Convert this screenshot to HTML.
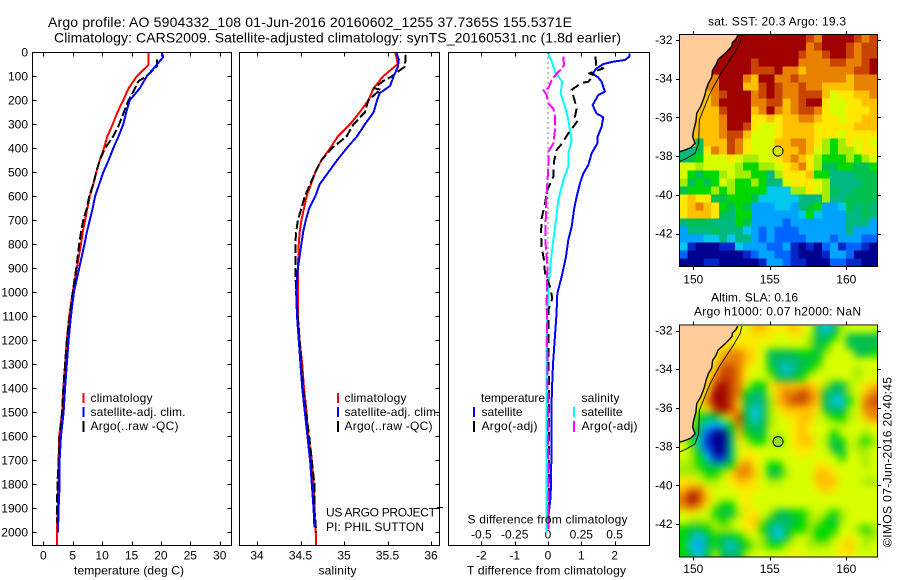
<!DOCTYPE html>
<html lang="en">
<head>
<meta charset="utf-8">
<title>Argo profile 5904332_108</title>
<style>
html,body{margin:0;padding:0;background:#fff;width:900px;height:580px;overflow:hidden}
svg{display:block}
text{font-family:"Liberation Sans",Arial,sans-serif;font-size:12px;fill:#000}
.title{font-size:14px}
.frame{fill:none;stroke:#000;stroke-width:1;shape-rendering:crispEdges}
.key{stroke-width:2.4;shape-rendering:crispEdges}
</style>
</head>
<body>
<svg id="figure" xmlns="http://www.w3.org/2000/svg" width="900" height="580" viewBox="0 0 900 580">
  <rect x="0" y="0" width="900" height="580" fill="#fff"/>
  <text class="title" x="48" y="27" textLength="524" lengthAdjust="spacing">Argo profile: AO 5904332_108 01-Jun-2016 20160602_1255 37.7365S 155.5371E</text>
  <text class="title" x="54" y="42.5" textLength="567" lengthAdjust="spacing">Climatology: CARS2009. Satellite-adjusted climatology: synTS_20160531.nc (1.8d earlier)</text>

  <g id="panelTemp"></g>
  <g id="panelSal"></g>
  <g id="panelDiff"></g>
  <g id="mapSst"></g>
  <g id="mapSla"></g>

  <g>
    <line class="key" x1="83.5" y1="393" x2="83.5" y2="403" stroke="#f00"/>
    <line class="key" x1="83.5" y1="407" x2="83.5" y2="417" stroke="#00f"/>
    <line class="key" x1="83.5" y1="421" x2="83.5" y2="432" stroke="#000"/>
    <text x="90.5" y="402" textLength="62" lengthAdjust="spacing">climatology</text>
    <text x="90.5" y="416" textLength="95" lengthAdjust="spacing">satellite-adj. clim.</text>
    <text x="90.5" y="430" textLength="88" lengthAdjust="spacing">Argo(..raw -QC)</text>
  </g>
  <g>
    <line class="key" x1="338" y1="393" x2="338" y2="403" stroke="#f00"/>
    <line class="key" x1="338" y1="407" x2="338" y2="417" stroke="#00f"/>
    <line class="key" x1="338" y1="421" x2="338" y2="432" stroke="#000"/>
    <text x="344.5" y="402" textLength="62" lengthAdjust="spacing">climatology</text>
    <text x="344.5" y="416" textLength="95" lengthAdjust="spacing">satellite-adj. clim.</text>
    <text x="344.5" y="430" textLength="88" lengthAdjust="spacing">Argo(..raw -QC)</text>
  </g>
  <text x="326" y="516.5" textLength="110" lengthAdjust="spacing">US ARGO PROJECT</text>
  <text x="326" y="531" textLength="98" lengthAdjust="spacing">PI: PHIL SUTTON</text>
  <line x1="437" y1="507.5" x2="443" y2="507.5" stroke="#000" shape-rendering="crispEdges"/>
  <g>
    <text x="481" y="402" textLength="64" lengthAdjust="spacing">temperature</text>
    <text x="581.5" y="402" textLength="38" lengthAdjust="spacing">salinity</text>
    <line class="key" x1="474" y1="407" x2="474" y2="417" stroke="#00f"/>
    <line class="key" x1="474" y1="421" x2="474" y2="432" stroke="#000"/>
    <line class="key" x1="574" y1="407" x2="574" y2="417" stroke="#0ff"/>
    <line class="key" x1="574" y1="421" x2="574" y2="432" stroke="#f0f"/>
    <text x="481.5" y="416" textLength="41" lengthAdjust="spacing">satellite</text>
    <text x="481.5" y="430" textLength="56" lengthAdjust="spacing">Argo(-adj)</text>
    <text x="581.5" y="416" textLength="41" lengthAdjust="spacing">satellite</text>
    <text x="581.5" y="430" textLength="56" lengthAdjust="spacing">Argo(-adj)</text>
  </g>

  <text x="74" y="574.5" textLength="110" lengthAdjust="spacing">temperature (deg C)</text>
  <text x="318.5" y="574.5" textLength="38" lengthAdjust="spacing">salinity</text>
  <text x="467" y="574.5" textLength="159" lengthAdjust="spacing">T difference from climatology</text>
  <text x="467.5" y="523.5" textLength="160" lengthAdjust="spacing">S difference from climatology</text>

  <text x="708" y="25.5" textLength="138" lengthAdjust="spacing">sat. SST: 20.3  Argo: 19.3</text>
  <text x="711" y="301.5" textLength="87" lengthAdjust="spacing">Altim. SLA: 0.16</text>
  <text x="694" y="315.5" textLength="167" lengthAdjust="spacing">Argo h1000: 0.07 h2000: NaN</text>
  <text transform="translate(891.5,547) rotate(-90)" x="0" y="0" textLength="170" lengthAdjust="spacing">©IMOS 07-Jun-2016 20:40:45</text>

  <defs>
    <clipPath id="clipSst"><rect x="680" y="35" width="197" height="231"/></clipPath>
    <clipPath id="clipSla"><rect x="680" y="326" width="197" height="231"/></clipPath>
    <filter id="slaBlur" x="-10%" y="-10%" width="120%" height="120%" color-interpolation-filters="sRGB"><feGaussianBlur stdDeviation="4"/></filter>
  </defs>
</svg>

<script>
// ---- profile depth levels and values ----
const depthTicks = [0,100,200,300,400,500,600,700,800,900,1000,1100,1200,1300,1400,1500,1600,1700,1800,1900,2000];
const tempTicks = [0,5,10,15,20,25,30];
const salTicks = [34,34.5,35,35.5,36];
const salTickLabels = ['34','34.5','35','35.5','36'];
const tDiffTicks = [-2,-1,0,1,2];
const sDiffTicks = [-0.5,-0.25,0,0.25,0.5];
const sDiffTickLabels = ['-0.5','-0.25','0','0.25','0.5'];

const depthClimT = [0,50,60,100,150,200,250,300,350,400,450,500,550,600,650,700,750,800,900,1000,1100,1200,1300,1400,1500,1600,1700,1800,1900,2000,2054];
const tempClim = [17.9,17.9,17.6,15.9,14.5,13.6,12.6,11.8,10.9,10.3,9.6,9.0,8.5,7.9,7.5,7.1,6.7,6.4,5.7,5.0,4.4,4.0,3.7,3.4,3.2,2.7,2.6,2.55,2.45,2.3,2.3];
const depthSatT = [0,20,60,100,150,200,250,300,350,400,450,500,550,600,650,700,750,800,900,1000,1100,1200,1300,1400,1500,1600,1700,1800,1900,2000];
const tempSat = [20.1,20.4,19.0,17.6,16.4,14.7,14.1,13.6,12.8,11.9,11.1,10.2,9.5,8.8,8.4,7.9,7.4,7.0,6.1,5.2,4.7,4.3,4.0,3.7,3.45,3.0,2.77,2.77,2.6,2.5];
const depthArgoT = [30,60,80,100,120,150,200,250,300,350,400,450,500,550,600,650,700,750,800,900,1000,1100,1200,1300,1400,1500,1600,1700,1800,1960];
const tempArgo = [19.3,19.3,18.4,17.5,16.2,15.6,14.5,13.7,12.9,11.9,10.5,9.6,9.0,8.5,7.8,7.4,6.8,6.4,6.1,5.6,5.0,4.5,4.0,3.7,3.4,3.2,2.8,2.6,2.4,2.3];

const depthClimS = [0,50,60,100,150,200,250,300,350,400,450,500,550,600,650,700,750,800,900,1000,1100,1200,1300,1400,1500,1600,1700,1800,1900,2000,2054];
const salClim = [35.59,35.62,35.58,35.45,35.34,35.28,35.18,35.07,34.93,34.84,34.74,34.67,34.62,34.57,34.54,34.51,34.49,34.48,34.47,34.47,34.47,34.49,34.52,34.54,34.57,34.59,34.63,34.65,34.66,34.675,34.68];
const depthSatS = [0,30,60,100,140,170,200,250,300,350,400,450,500,550,600,650,700,750,800,900,1000,1100,1200,1300,1400,1500,1600,1700,1800,1900,1980];
const salSat = [35.6,35.63,35.62,35.57,35.53,35.41,35.38,35.34,35.24,35.15,35.03,34.92,34.82,34.72,34.67,34.6,34.56,34.53,34.51,34.47,34.45,34.46,34.48,34.5,34.52,34.55,34.58,34.61,34.63,34.65,34.66];
const depthArgoS = [10,60,70,100,120,150,155,200,250,300,350,400,450,500,550,600,650,700,750,800,900,1000,1200,1400,1600,1800,1900,2000];
const salArgo = [35.71,35.7,35.66,35.55,35.45,35.34,35.42,35.28,35.24,35.11,35.03,34.86,34.74,34.67,34.61,34.55,34.51,34.47,34.45,34.44,34.44,34.45,34.49,34.53,34.6,34.66,34.66,34.68];

const depthDiffTSat = [5,18,32,39,49,67,88,105,123,164,178,220,255,271,310,352,380,421,470,505,546,602,657,727,782,852,935,1005,1074,1100,1200,1300,1400,1500,1700,1850,1950];
const diffTSat = [2.44,2.44,2.31,1.96,1.66,1.46,1.34,1.51,1.61,1.71,1.51,1.34,1.46,1.66,1.61,1.49,1.48,1.31,1.21,1.06,0.96,0.86,0.78,0.71,0.61,0.54,0.41,0.28,0.26,0.25,0.2,0.15,0.12,0.1,0.1,0.08,0.0];
const depthDiffSSat = [5,46,81,123,171,227,282,366,421,477,532,616,699,782,866,935,1005,1074,1200,1500,1800,2000];
const diffSSat = [0.0025,0.0325,0.0525,0.1075,0.095,0.1275,0.1525,0.1775,0.1525,0.1525,0.115,0.0775,0.06,0.04,0.0225,0.01,0.0025,-0.005,-0.01,-0.01,-0.01,-0.01];
const depthDiffTArgo = [18,53,67,88,95,123,127,157,206,234,268,282,338,387,407,456,518,574,630,692,755,810,866,921,977,1025,1074,1500,1960];
const diffTArgo = [1.43,1.44,1.66,1.23,1.38,1.21,1.01,0.71,0.81,0.86,0.81,0.91,0.61,0.38,0.26,0.18,0.16,-0.02,-0.09,-0.19,-0.21,-0.19,-0.12,-0.09,0.06,0.13,0.01,0.03,0.03];
const depthDiffSArgo = [18,53,67,88,116,150,157,178,213,234,268,324,380,414,477,546,630,713,782,894,1046,1500,2000];
const diffSArgo = [0.115,0.12,0.1075,0.065,0.0275,0.0025,-0.035,-0.01,0.0025,0.04,0.0525,0.0525,0.04,0.0025,0.0025,-0.005,-0.015,-0.0175,-0.02,-0.005,-0.01,0,0.005];
const zeroLineDepths = [0,1100];
const zeroLineValues = [0,0];

// ---- map grids: one hex digit per cell, 0 = navy ... e = dark red ----
const sstRows = [
"eeeeeeeeeeeeeeeedceeeedcd","eeeeeeeeeeeeeeeecdeeedcdd","eeeeeeeeeeeeeeedccdeedcdd","eeeeeeeeedeeeeeccccddccde",
"eeeeeeeeedddeccbccccccdde","ccccceeecbeeccdccccccbccc","ccccceeebbdedccdccbbbbccc","bbbbcdeeecdedccdddb9aabbc",
"bbbbceeeeccddbcdeea99aabb","bbbbbdeeebcecbcddca99aaab","bbbbbceeeaababbccbaa9aabb","bbbbbceeda99abbbbaaaaabbb",
"bbbbbcddb999abbbbaaa9aaaa","bb6bbbdca999bbccba878a9a9","556acbdca999abbcb987889aa","567999a98899abcba87778789",
"9989999877889abca86677667","9767789887758aaab77555666","86767987787559aaa98555566","6777878777744488a98655666",
"abaa667776444445558556666","abcba76763334435673346565","abbba65773333334743335565","5666555763333233333335553",
"3555655543232223333335333","3334454553232222333233322","4100011433322310102312210","2000000012332210001332000",
"0001100000133211000221100"];
const slaRows = [
"aaaaaaaa9bbaaaba954589999","aaaaaaaaaaaa99a9865796666","aaaaaaaaaa999999867996666","aaaaabccba966667768999667",
"aaaaacccba965556679999999","aaaabddca9975456789999899","aaaacddca9986567999999899","aaaadedc977abbbbba86689ab",
"aaabeedc7569bccdcb65589bc","aaaceedb6558bcddcb64479cd","aa8adedb6458abbbba65589cc","a97668bd64589aabb987789bc",
"a864347c656899aba9998999a","a752006b766999aba99799989","9741005a877979abb98679878","98520059a99999aaa99669889",
"98741159aa99999a999979989","8876557bca9779999aa999989","888778accb9668999bba99999","aa9889abba9889999bbb99988",
"bcca999aaa9999999aba99999","cedb9999a9999999999999999","cdca8779a9999999999999999","9a997668aa986677898789999",
"98888789ab866567887689999","76678889aa754677877799878","754576678985468987789a988","74357545788778998889ab989",
"75468656899999a99999aa999"];
const levelColors = ['#000090','#0028c8','#0064ff','#00a4ff','#00c8ec','#00b880','#00c050','#00d800','#a4ec00','#d8ff00','#ffe800','#ffc000','#e88000','#c84400','#a00000'];
const coastLon = [152.94,152.77,152.55,152.53,152.29,152.07,151.96,151.63,151.48,151.26,151.2,150.98,150.83,150.76,150.65,150.48,150.22,150.17,150.0,149.96,150.11,149.83,149.46,149.08];
const coastLat = [-31.71,-31.97,-32.14,-32.31,-32.52,-32.69,-32.77,-33.0,-33.29,-33.55,-33.93,-34.24,-34.58,-34.84,-35.1,-35.44,-35.79,-36.22,-36.73,-36.99,-37.34,-37.56,-37.68,-37.77];
const isobathLon = [153.2,153.05,152.61,151.74,151.09,150.39,150.35,150.11,149.56,149.08];
const isobathLat = [-31.71,-32.17,-32.77,-33.81,-34.75,-36.13,-37.34,-37.85,-38.11,-38.28];
const argoLon = [155.5371];
const argoLat = [-37.7365];
const lonTicks = [150,155,160];
const latTicks = [-32,-34,-36,-38,-40,-42];

// ---- axis functions ----
const depthY = d => 52.3 + d * 0.24;
const tempX = t => 43.3 + t * 5.88;
const salX = s => 257 + (s - 34) * 87;
const tDiffX = t => 548 + t * 33.3;
const sDiffX = s => 548 + s * 4 * 33.3;
const lonMin = 149.1, lonMax = 162.04, latTop = -31.72, latBottom = -43.7;
const lonX = l => 693.3 + (l - 150) * 15.3;
const latY = (l, off) => 40 + (-32 - l) * 19.37 + off;

const NS = 'http://www.w3.org/2000/svg';
function make(tag, parent, attrs) {
  const e = document.createElementNS(NS, tag);
  for (const k in attrs) e.setAttribute(k, attrs[k]);
  parent.appendChild(e);
  return e;
}
function tick(parent, x1, y1, x2, y2) {
  return make('line', parent, {x1: x1, y1: y1, x2: x2, y2: y2, stroke: '#000', 'stroke-width': 1, 'shape-rendering': 'crispEdges'});
}
function label(parent, x, y, str, anchor) {
  const t = make('text', parent, {x: x, y: y, 'text-anchor': anchor});
  t.textContent = str;
  return t;
}
function profile(parent, depths, values, xf, color, dash) {
  const pts = depths.map((d, i) => xf(values[i]).toFixed(2) + ',' + depthY(d).toFixed(2)).join(' ');
  const attrs = {points: pts, fill: 'none', stroke: color, 'stroke-width': 2, 'stroke-linejoin': 'round', 'shape-rendering': 'crispEdges'};
  if (dash) attrs['stroke-dasharray'] = dash;
  return make('polyline', parent, attrs);
}
function frame(parent, x, y, w, h) {
  const r = make('rect', parent, {x: x, y: y, width: w, height: h, class: 'frame'});
  return r;
}

// ---- profile panels ----
const panelTemp = document.getElementById('panelTemp');
const panelSal = document.getElementById('panelSal');
const panelDiff = document.getElementById('panelDiff');

depthTicks.forEach(d => {
  const y = Math.round(depthY(d)) + 0.5;
  const a = tick(panelTemp, 32.5, y, 36.5, y);
  
  
  const b = tick(panelTemp, 227.5, y, 231.5, y);
  
  
  const c = tick(panelSal, 435.5, y, 439.5, y);
  
  
  const t = label(panelTemp, 28, depthY(d) + 4.4, String(d), 'end');
  
  
});
tempTicks.forEach(v => {
  const x = Math.round(tempX(v)) + 0.5;
  const a = tick(panelTemp, x, 52.5, x, 56.5);
  
  
  const b = tick(panelTemp, x, 541.5, x, 545.5);
  
  
  const t = label(panelTemp, tempX(v), 559.5, String(v), 'middle');
  
  
});
salTicks.forEach((v, i) => {
  const x = Math.round(salX(v)) + 0.5;
  const a = tick(panelSal, x, 52.5, x, 56.5);
  
  
  const b = tick(panelSal, x, 541.5, x, 545.5);
  
  
  const t = label(panelSal, salX(v), 559.5, salTickLabels[i], 'middle');
  
  
});
tDiffTicks.forEach(v => {
  const x = Math.round(tDiffX(v)) + 0.5;
  const a = tick(panelDiff, x, 52.5, x, 56.5);
  
  
  const b = tick(panelDiff, x, 541.5, x, 545.5);
  
  
  const t = label(panelDiff, tDiffX(v), 559.5, String(v), 'middle');
  
  
});
sDiffTicks.forEach((v, i) => {
  const t = label(panelDiff, sDiffX(v), 538.5, sDiffTickLabels[i], 'middle');
  
  
});

const l1 = profile(panelTemp, depthClimT, tempClim, tempX, '#f00');


const l2 = profile(panelTemp, depthArgoT, tempArgo, tempX, '#000', '9 3');


const l3 = profile(panelTemp, depthSatT, tempSat, tempX, '#00f');


const l4 = profile(panelSal, depthClimS, salClim, salX, '#f00');


const l5 = profile(panelSal, depthArgoS, salArgo, salX, '#000', '9 3');


const l6 = profile(panelSal, depthSatS, salSat, salX, '#00f');


const l7 = profile(panelDiff, zeroLineDepths, zeroLineValues, tDiffX, '#000', '1 4');
l7.setAttribute('stroke-width', '1');


const l8 = profile(panelDiff, depthDiffTSat, diffTSat, tDiffX, '#00f');


const l9 = profile(panelDiff, depthDiffSSat, diffSSat, sDiffX, '#0ff');


const l10 = profile(panelDiff, depthDiffTArgo, diffTArgo, tDiffX, '#000', '9 5');


const l11 = profile(panelDiff, depthDiffSArgo, diffSArgo, sDiffX, '#f0f', '11 3');



const f1 = frame(panelTemp, 32.5, 52.5, 199, 493);


const f2 = frame(panelSal, 239.5, 52.5, 200, 493);


const f3 = frame(panelDiff, 448.5, 52.5, 201, 493);



// ---- maps ----
function drawMap(group, rows, off, clipId, smooth, markerFill) {
  const clip = make('g', group, {'clip-path': 'url(#' + clipId + ')'});
  
  
  const cells = make('g', clip, smooth ? {filter: 'url(#slaBlur)'} : {'shape-rendering': 'crispEdges'});
  
  
  const nRows = rows.length;
  rows.forEach((row, j) => {
    const nCols = row.length;
    const y0 = latY(latTop + (latBottom - latTop) * j / nRows, off);
    const y1 = latY(latTop + (latBottom - latTop) * (j + 1) / nRows, off);
    row.split('').forEach((ch, i) => {
      const x0 = lonX(lonMin + (lonMax - lonMin) * i / nCols);
      const x1 = lonX(lonMin + (lonMax - lonMin) * (i + 1) / nCols);
      const pad = smooth ? 14 : 0;
      const left = i === 0 ? x0 - pad : x0;
      const right = i === nCols - 1 ? x1 + pad : x1;
      const top = j === 0 ? y0 - pad : y0;
      const bottom = j === nRows - 1 ? y1 + pad : y1;
      const c = make('rect', cells, {x: left.toFixed(2), y: top.toFixed(2), width: (right - left + 0.4).toFixed(2), height: (bottom - top + 0.4).toFixed(2), fill: levelColors[parseInt(ch, 16)]});
      
      
    });
  });
  const landPts = coastLon.map((l, i) => lonX(l).toFixed(1) + ',' + latY(coastLat[i], off).toFixed(1));
  landPts.push(lonX(lonMin - 1).toFixed(1) + ',' + latY(coastLat[coastLat.length - 1], off).toFixed(1));
  landPts.push(lonX(lonMin - 1).toFixed(1) + ',' + latY(latTop + 1, off).toFixed(1));
  landPts.push(lonX(coastLon[0]).toFixed(1) + ',' + latY(latTop + 1, off).toFixed(1));
  const land = make('polygon', clip, {points: landPts.join(' '), fill: '#ffcc99', stroke: 'none'});
  
  
  const coast = make('polyline', clip, {points: coastLon.map((l, i) => lonX(l).toFixed(1) + ',' + latY(coastLat[i], off).toFixed(1)).join(' '), fill: 'none', stroke: '#000', 'stroke-width': 1.4});
  
  
  const iso = make('polyline', clip, {points: isobathLon.map((l, i) => lonX(l).toFixed(1) + ',' + latY(isobathLat[i], off).toFixed(1)).join(' '), fill: 'none', stroke: '#000', 'stroke-width': 0.9});
  
  
  const mark = make('circle', group, {cx: lonX(argoLon[0]), cy: latY(argoLat[0], off), r: 5, fill: markerFill, stroke: '#000', 'stroke-width': 1});
  
  
  const fr = frame(group, 679.5, 34.5 + off, 198, 232);
  
  
  lonTicks.forEach(v => {
    const x = Math.round(lonX(v)) + 0.5;
    const a = tick(group, x, 31 + off, x, 34.5 + off);
    
    
    const b = tick(group, x, 266.5 + off, x, 270 + off);
    
    
    const t = label(group, lonX(v), 283.5 + off - (off ? 1 : 0), String(v), 'middle');
    
    
  });
  latTicks.forEach(v => {
    const y = Math.round(latY(v, off)) + 0.5;
    const a = tick(group, 676, y, 679.5, y);
    
    
    const b = tick(group, 877.5, y, 881, y);
    
    
    const t = label(group, 672.5, latY(v, off) + 4, String(v), 'end');
    
    
  });
}
drawMap(document.getElementById('mapSst'), sstRows, 0, 'clipSst', false, '#d8e800');
drawMap(document.getElementById('mapSla'), slaRows, 290.5, 'clipSla', true, '#98e030');
</script>
</body>
</html>
